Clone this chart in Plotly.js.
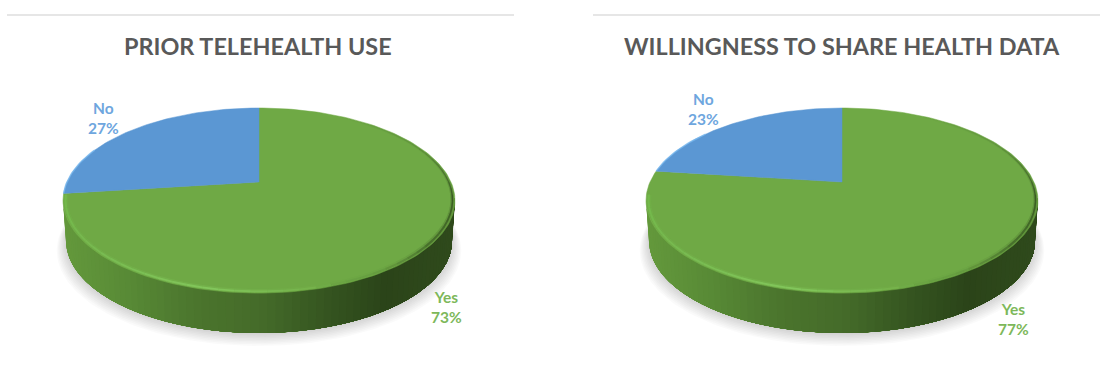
<!DOCTYPE html>
<html>
<head>
<meta charset="utf-8">
<script src="https://cdn.plot.ly/plotly-3.0.1.min.js"></script>
<style>html,body{margin:0;padding:0;background:#fff}#chart{width:1100px;height:376px}</style>
</head>
<body>
<div id="chart"></div>
<script>
// Survey results, one array per chart
const categories = ["Yes", "No"];
const priorTelehealthUse = [73, 27];
const willingnessToShare = [77, 23];
const chartTitles = ["PRIOR TELEHEALTH USE", "WILLINGNESS TO SHARE HEALTH DATA"];

// Colours
const sliceColors = {Yes: "#6fa945", No: "#5b97d3"};
const labelColors = {Yes: "#7db85a", No: "#6ea6de"};
const wallStops = [[-196,"#64993c"],[-130,"#588a36"],[-60,"#4b752d"],[10,"#446a29"],[80,"#33521f"],[130,"#2b4419"],[196,"#2f4a1c"]];
// Rim shading by clock angle: [degrees, r, g, b, alpha, width]
const rimStops = [[30,60,90,40,0,1],[65,60,90,40,.25,1],[100,42,68,24,.7,1.5],[128,44,72,26,.5,2.2],[150,60,95,40,.1,2],[168,128,198,90,.3,1.8],[192,134,204,96,.8,1.8],[235,122,192,84,.6,1.8],[262,115,190,75,.7,2.2]];

// Disc geometry in axis units (the axes below give one unit per pixel)
const DISC_A = 192, DISC_B = 88.8, TILT = 0.2, DEPTH = 40, BASE_SCALE = 0.985;
const AXES = [
  {domain: [0, 0.5], xrange: [-259, 291], yrange: [-194, 182]},
  {domain: [0.5, 1], xrange: [-292, 258], yrange: [-194, 182]}
];
const LABEL_SPOTS = [
  {Yes: [446, 307], No: [103, 118]},
  {Yes: [1013, 319], No: [703, 109]}
];
const TITLE_CENTERS = [258, 842];

// Clock angle (0 = twelve o'clock, clockwise) to a point on the tilted disc
function disc(deg, k) {
  const t = deg * Math.PI / 180, scale = k === undefined ? 1 : k;
  const u = Math.sin(t) * scale, v = Math.cos(t) * scale, w = 1 + TILT * v;
  return [DISC_A * u / w, DISC_B * v / w];
}
function arc(from, to) {
  const n = Math.max(2, Math.ceil(Math.abs(to - from) / 1.5)), pts = [];
  for (let i = 0; i <= n; i++) pts.push(disc(from + (to - from) * i / n));
  return pts;
}
const base = p => [p[0] * BASE_SCALE, p[1] - DEPTH];
function hex(c) { return [1, 3, 5].map(i => parseInt(c.substr(i, 2), 16)); }
function wallColor(x) {
  let i = 0;
  while (i < wallStops.length - 2 && x > wallStops[i + 1][0]) i++;
  const [x0, c0] = wallStops[i], [x1, c1] = wallStops[i + 1];
  const f = Math.min(1, Math.max(0, (x - x0) / (x1 - x0)));
  const a = hex(c0), b = hex(c1);
  return "rgb(" + a.map((v, j) => Math.round(v + (b[j] - v) * f)).join(",") + ")";
}
function rimStyle(deg) {
  let i = 0;
  while (i < rimStops.length - 2 && deg > rimStops[i + 1][0]) i++;
  const s0 = rimStops[i], s1 = rimStops[i + 1], f = (deg - s0[0]) / (s1[0] - s0[0]);
  const m = j => s0[j] + (s1[j] - s0[j]) * f;
  return {rgb: `${Math.round(m(1))},${Math.round(m(2))},${Math.round(m(3))}`, alpha: m(4), width: m(5)};
}

const traces = [];
function poly(pts, idx, fill, line) {
  traces.push({
    type: "scatter", mode: "lines", hoverinfo: "skip", showlegend: false,
    x: pts.map(p => p[0]), y: pts.map(p => p[1]),
    xaxis: idx ? "x2" : "x", yaxis: idx ? "y2" : "y",
    fill: fill ? "toself" : "none", fillcolor: fill || undefined,
    line: line || {width: 0, color: "rgba(0,0,0,0)"}
  });
}

function drawPie(values, idx) {
  const total = values.reduce((a, b) => a + b, 0);

  // Soft ground shadow: stacked translucent rings
  for (let i = 8; i >= 0; i--) {
    const ring = arc(0, 360).map(p => {
      const q = base(p);
      return [q[0] * (1 + i * 0.006), q[1] * (1 + i * 0.004) - 1 - i * 0.9];
    });
    poly(ring, idx, "rgba(0,0,0,0.02)");
  }

  // Side wall: each strip runs on to the right-hand end, so the next one paints over it without a seam
  const from = 100, to = 260, strips = 80;
  for (let i = strips - 1; i >= 0; i--) {
    const a0 = from + (to - from) * i / strips;
    const seg = arc(from, a0 + (to - from) / strips), pts = seg.concat(seg.slice().reverse().map(base));
    poly(pts.concat([pts[0]]), idx, wallColor(disc(a0)[0]));
  }

  // Top face: one sector per category, clockwise from twelve o'clock
  let start = 0;
  values.forEach((v, i) => {
    const end = start + v / total * 360;
    const pts = [[0, 0]].concat(arc(start, end), [[0, 0]]);
    poly(pts, idx, sliceColors[categories[i]], {color: sliceColors[categories[i]], width: 0.5});
    if (categories[i] === "No") {
      poly(arc(start, Math.min(end, start + 30)), idx, null, {color: "rgba(120,185,240,0.7)", width: 1.5});
    }
    start = end;
  });

  // Bevelled rim on the top face: a wide faint pass under a narrow one
  for (let d = 30; d < 262; d += 4) {
    const s = rimStyle(d + 2);
    const pts = [disc(d, 0.988), disc(d + 2, 0.988), disc(d + 4, 0.988)];
    poly(pts, idx, null, {color: `rgba(${s.rgb},${(s.alpha * 0.3).toFixed(3)})`, width: s.width * 2.6});
    poly(pts, idx, null, {color: `rgba(${s.rgb},${s.alpha.toFixed(3)})`, width: s.width});
  }
}
drawPie(priorTelehealthUse, 0);
drawPie(willingnessToShare, 1);

const W = 1100, H = 376;
const annotations = [];
chartTitles.forEach((text, i) => {
  annotations.push({
    text, xref: "paper", yref: "paper", x: TITLE_CENTERS[i] / W, y: 1 - 46 / H,
    xanchor: "center", yanchor: "middle", showarrow: false,
    font: {family: "Lato, 'Open Sans', sans-serif", size: 23.4, color: "#595959", weight: 700}
  });
});
[priorTelehealthUse, willingnessToShare].forEach((values, i) => {
  values.forEach((v, j) => {
    const cat = categories[j], spot = LABEL_SPOTS[i][cat];
    annotations.push({
      text: cat + "<br>" + v + "%", xref: "paper", yref: "paper",
      x: spot[0] / W, y: 1 - spot[1] / H, xanchor: "center", yanchor: "middle",
      showarrow: false, align: "center",
      font: {family: "Lato, 'Open Sans', sans-serif", size: 15.5, color: labelColors[cat], weight: 700}
    });
  });
});

const hiddenAxis = extra => Object.assign({visible: false, fixedrange: true, showgrid: false, zeroline: false}, extra);
const layout = {
  width: W, height: H, margin: {l: 0, r: 0, t: 0, b: 0},
  paper_bgcolor: "#ffffff", plot_bgcolor: "#ffffff", showlegend: false,
  xaxis: hiddenAxis({domain: AXES[0].domain, range: AXES[0].xrange}),
  yaxis: hiddenAxis({range: AXES[0].yrange}),
  xaxis2: hiddenAxis({domain: AXES[1].domain, range: AXES[1].xrange, anchor: "y2"}),
  yaxis2: hiddenAxis({range: AXES[1].yrange, anchor: "x2"}),
  annotations,
  shapes: [[7, 514], [593, 1100]].map(r => ({
    type: "line", xref: "paper", yref: "paper", x0: r[0] / W, x1: r[1] / W,
    y0: 1 - 15 / H, y1: 1 - 15 / H, line: {color: "#dedede", width: 1.5}
  }))
};
Plotly.newPlot("chart", traces, layout, {displayModeBar: false, staticPlot: true});
</script>
</body>
</html>
